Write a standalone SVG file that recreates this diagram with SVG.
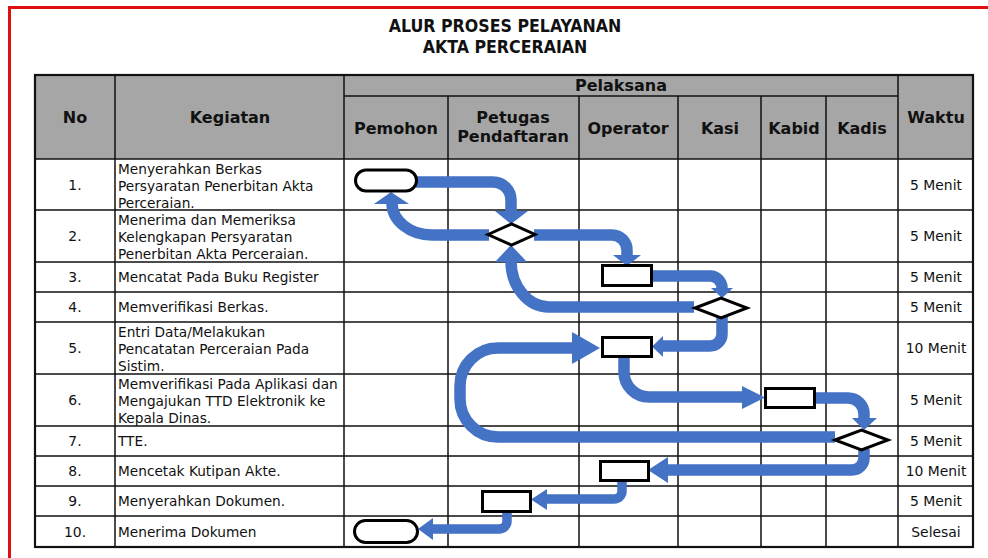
<svg xmlns="http://www.w3.org/2000/svg" width="988" height="558" viewBox="0 0 988 558">
<style>
  .t{font-family:"DejaVu Sans","Noto Sans",sans-serif;fill:#111}
  .title{font-family:"DejaVu Sans Condensed","DejaVu Sans",sans-serif;font-size:17.6px;font-weight:bold;text-anchor:middle}
  .hd{font-size:16px;font-weight:bold;text-anchor:middle}
  .body{font-size:13.7px}
  .num{font-size:13.9px;text-anchor:middle}
  .grid{stroke:#111;stroke-width:1.5;fill:none}
  .flow{fill:none;stroke:#4472C4;stroke-width:11.5}
  .thin{stroke-width:9.5}
  .head{fill:#4472C4}
  .node{fill:#fff;stroke:#000;stroke-width:3}
</style>
<rect width="988" height="558" fill="#fff"/>
<!-- red frame -->
<path d="M9.5 558 V7.5 H988" fill="none" stroke="#e01010" stroke-width="3"/>
<!-- title -->
<text class="t title" x="505" y="32">ALUR PROSES PELAYANAN</text>
<text class="t title" x="505" y="53">AKTA PERCERAIAN</text>
<!-- table -->
<g id="table">
  <rect x="35" y="75" width="938" height="84" fill="#a6a6a6"/>
  <g class="grid">
    <path d="M344 96 H898"/>
    <path d="M35 159 H973 M35 210 H973 M35 262 H973 M35 292 H973 M35 322 H973 M35 374 H973 M35 426 H973 M35 456 H973 M35 486 H973 M35 516 H973"/>
    <path d="M115 75 V547 M344 75 V547 M898 75 V547"/>
    <path d="M448 96 V547 M579 96 V547 M678 96 V547 M761 96 V547 M826 96 V547"/>
    <rect x="35" y="75" width="938" height="472" stroke-width="2.2"/>
  </g>
  <text class="t hd" x="75" y="123">No</text>
  <text class="t hd" x="230" y="123">Kegiatan</text>
  <text class="t hd" x="621" y="91">Pelaksana</text>
  <text class="t hd" x="396" y="134">Pemohon</text>
  <text class="t hd" x="513" y="123">Petugas</text>
  <text class="t hd" x="513" y="142">Pendaftaran</text>
  <text class="t hd" x="628" y="134">Operator</text>
  <text class="t hd" x="720" y="134">Kasi</text>
  <text class="t hd" x="794" y="134">Kabid</text>
  <text class="t hd" x="862" y="134">Kadis</text>
  <text class="t hd" x="936" y="123">Waktu</text>

  <text class="t num" x="75" y="190">1.</text>
  <text class="t num" x="75" y="241">2.</text>
  <text class="t num" x="75" y="282">3.</text>
  <text class="t num" x="75" y="312">4.</text>
  <text class="t num" x="75" y="353">5.</text>
  <text class="t num" x="75" y="405">6.</text>
  <text class="t num" x="75" y="446">7.</text>
  <text class="t num" x="75" y="476">8.</text>
  <text class="t num" x="75" y="506">9.</text>
  <text class="t num" x="75" y="537">10.</text>

  <text class="t body" x="118" y="174">Menyerahkan Berkas</text>
  <text class="t body" x="118" y="191">Persyaratan Penerbitan Akta</text>
  <text class="t body" x="118" y="208">Perceraian.</text>
  <text class="t body" x="118" y="225">Menerima dan Memeriksa</text>
  <text class="t body" x="118" y="242">Kelengkapan Persyaratan</text>
  <text class="t body" x="118" y="259">Penerbitan Akta Perceraian.</text>
  <text class="t body" x="118" y="282">Mencatat Pada Buku Register</text>
  <text class="t body" x="118" y="312">Memverifikasi Berkas.</text>
  <text class="t body" x="118" y="337">Entri Data/Melakukan</text>
  <text class="t body" x="118" y="354">Pencatatan Perceraian Pada</text>
  <text class="t body" x="118" y="371">Sistim.</text>
  <text class="t body" x="118" y="389">Memverifikasi Pada Aplikasi dan</text>
  <text class="t body" x="118" y="406">Mengajukan TTD Elektronik ke</text>
  <text class="t body" x="118" y="423">Kepala Dinas.</text>
  <text class="t body" x="118" y="446">TTE.</text>
  <text class="t body" x="118" y="476">Mencetak Kutipan Akte.</text>
  <text class="t body" x="118" y="506">Menyerahkan Dokumen.</text>
  <text class="t body" x="118" y="537">Menerima Dokumen</text>

  <text class="t num" x="936" y="190">5 Menit</text>
  <text class="t num" x="936" y="241">5 Menit</text>
  <text class="t num" x="936" y="282">5 Menit</text>
  <text class="t num" x="936" y="312">5 Menit</text>
  <text class="t num" x="936" y="353">10 Menit</text>
  <text class="t num" x="936" y="405">5 Menit</text>
  <text class="t num" x="936" y="446">5 Menit</text>
  <text class="t num" x="936" y="476">10 Menit</text>
  <text class="t num" x="936" y="506">5 Menit</text>
  <text class="t num" x="936" y="537">Selesai</text>
</g>
<!-- connectors -->
<g id="connectors">
  <path class="flow" d="M416 182 H493 A18 18 0 0 1 511 200 V212"/>
  <polygon class="head" points="495,211 528,211 511,224"/>
  <path class="flow" d="M489 235 H432 A40 32 0 0 1 392 203"/>
  <polygon class="head" points="374,204 409,204 391,192"/>
  <path class="flow" d="M534 235 H612 A15 15 0 0 1 627 250 V256"/>
  <polygon class="head" points="613,255 641,255 627,266"/>
  <path class="flow" d="M694 307 H549 A38 46 0 0 1 511 261"/>
  <polygon class="head" points="495,262 527,262 511,245"/>
  <path class="flow" d="M651 276 H710 A12 12 0 0 1 722 288 V289"/>
  <polygon class="head" points="711,288 733,288 722,298"/>
  <path class="flow" d="M722 317 V334 A12 12 0 0 1 710 346 H662"/>
  <polygon class="head" points="663,336 663,357 652,346.5"/>
  <path class="flow" d="M624 356 V372 A25 25 0 0 0 649 397 H743"/>
  <polygon class="head" points="742,386 742,409 765,397.5"/>
  <path class="flow" d="M814 398 H848 A16 16 0 0 1 864 414 V419"/>
  <polygon class="head" points="852,418 877,418 864,430"/>
  <path class="flow" d="M835 437 H498 A38 38 0 0 1 460 399 V386 A38 38 0 0 1 498 348 H573"/>
  <polygon class="head" points="572,332 572,364 600,348"/>
  <path class="flow" d="M864 449 V458 A12 12 0 0 1 852 470 H667"/>
  <polygon class="head" points="668,457 668,483 648,470"/>
  <path class="flow thin" d="M622 480 V491 A8 8 0 0 1 614 499 H546"/>
  <polygon class="head" points="547,489 547,510 531,499.5"/>
  <path class="flow thin" d="M507 511 V521 A8 8 0 0 1 499 529 H432"/>
  <polygon class="head" points="433,518 433,540 418,529"/>
</g>
<!-- nodes -->
<g id="n1"><rect class="node" x="355.5" y="170" width="61" height="21" rx="10.5"/></g>
<g id="n2"><polygon class="node" points="488,234.5 511.5,224 535,234.5 511.5,245"/></g>
<g id="n3"><rect class="node" x="602.5" y="265.5" width="49" height="20"/></g>
<g id="n4"><polygon class="node" points="695,308 721,298 747,308 721,318"/></g>
<g id="n5"><rect class="node" x="602.5" y="337.5" width="49" height="19"/></g>
<g id="n6"><rect class="node" x="765.5" y="388.5" width="49" height="19"/></g>
<g id="n7"><polygon class="node" points="835,440 861.5,430 888,440 861.5,450"/></g>
<g id="n8"><rect class="node" x="600.5" y="461.5" width="48" height="19"/></g>
<g id="n9"><rect class="node" x="482.5" y="491.5" width="48" height="20"/></g>
<g id="n10"><rect class="node" x="354.5" y="520.5" width="63" height="22" rx="11"/></g>
</svg>
